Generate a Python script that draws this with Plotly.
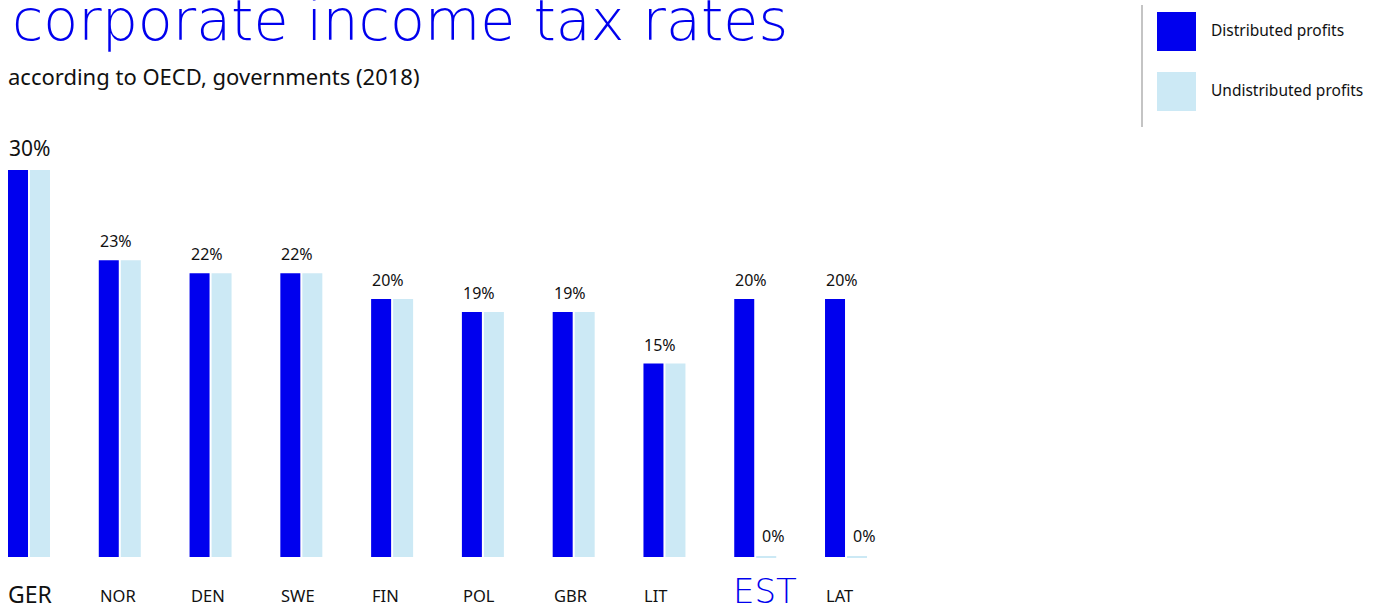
import plotly.graph_objects as go

countries = ["GER", "NOR", "DEN", "SWE", "FIN", "POL", "GBR", "LIT", "EST", "LAT"]
distributed = [30, 23, 22, 22, 20, 19, 19, 15, 20, 20]
undistributed = [30, 23, 22, 22, 20, 19, 19, 15, 0, 0]
title_text = "corporate income tax rates"
subtitle_text = "according to OECD, governments (2018)"
legend_names = ["Distributed profits", "Undistributed profits"]

BLUE = "#0000ee"
LIGHT = "#cce9f5"
W, H = 1373, 604
FONT = "Noto Sans"

idx = list(range(len(countries)))
pitch = 90.78
x_left = -29 / pitch
x_right = (W - 29) / pitch
off = 11 / pitch
bw = 20 / pitch

fig = go.Figure()
fig.add_trace(go.Bar(x=[i - off for i in idx], y=distributed, width=bw,
                     marker=dict(color=BLUE, line=dict(width=0)),
                     name=legend_names[0], showlegend=False, hoverinfo="skip"))
fig.add_trace(go.Bar(x=[i + off for i in idx], y=undistributed, width=bw,
                     marker=dict(color=LIGHT, line=dict(color=LIGHT,
                                 width=[2 if v == 0 else 0 for v in undistributed])),
                     name=legend_names[1], showlegend=False, hoverinfo="skip"))

ann = []
for i, (c, d, u) in enumerate(zip(countries, distributed, undistributed)):
    big = (i == 0)
    if d == u:
        ann.append(dict(x=i, y=d, xref="x", yref="y", text=f"{d}%", showarrow=False,
                        xanchor="left", yanchor="bottom", xshift=-22, yshift=6,
                        font=dict(family=FONT, size=21 if big else 16, color="#111")))
    else:
        ann.append(dict(x=i, y=d, xref="x", yref="y", text=f"{d}%", showarrow=False,
                        xanchor="left", yanchor="bottom", xshift=-22, yshift=6,
                        font=dict(family=FONT, size=16, color="#111")))
        ann.append(dict(x=i, y=u, xref="x", yref="y", text=f"{u}%", showarrow=False,
                        xanchor="left", yanchor="bottom", xshift=5, yshift=8,
                        font=dict(family=FONT, size=16, color="#111")))
    # category labels
    if c == "EST":
        f = dict(family="DejaVu Sans", size=34, color=BLUE, weight=200)
        xs, ys = -24, -12
    elif big:
        f = dict(family=FONT, size=23, color="#111")
        xs, ys = -23, -19
    else:
        f = dict(family=FONT, size=16.5, color="#111")
        xs, ys = -22, -25
    ann.append(dict(x=i, y=0, xref="x", yref="y", text=c, showarrow=False,
                    xanchor="left", yanchor="top", xshift=xs, yshift=ys, font=f))

# title & subtitle
ann.append(dict(x=10 / W, y=1, xref="paper", yref="paper", text=title_text, showarrow=False,
                xanchor="left", yanchor="top", yshift=15,
                font=dict(family="DejaVu Sans", size=57, color=BLUE, weight=200)))
ann.append(dict(x=6 / W, y=1 - 59 / H, xref="paper", yref="paper", text=subtitle_text,
                showarrow=False, xanchor="left", yanchor="top",
                font=dict(family=FONT, size=22, color="#111")))

# legend
shapes = [
    dict(type="line", xref="paper", yref="paper", x0=1142 / W, x1=1142 / W,
         y0=1 - 5 / H, y1=1 - 127 / H, line=dict(color="#b0b0b0", width=1.5)),
    dict(type="rect", xref="paper", yref="paper", x0=1157 / W, x1=1196 / W,
         y0=1 - 12 / H, y1=1 - 51 / H, fillcolor=BLUE, line=dict(width=0)),
    dict(type="rect", xref="paper", yref="paper", x0=1157 / W, x1=1196 / W,
         y0=1 - 72 / H, y1=1 - 111 / H, fillcolor=LIGHT, line=dict(width=0)),
]
for k, (name, py) in enumerate(zip(legend_names, [30, 90])):
    ann.append(dict(x=1209 / W, y=1 - py / H, xref="paper", yref="paper", text=name,
                    showarrow=False, xanchor="left", yanchor="middle",
                    font=dict(family=FONT, size=15.5, color="#111")))

fig.update_layout(
    width=W, height=H,
    margin=dict(l=0, r=0, t=0, b=0),
    paper_bgcolor="white", plot_bgcolor="white",
    barmode="overlay",
    xaxis=dict(range=[x_left, x_right], visible=False, fixedrange=True),
    yaxis=dict(range=[-(H - 557) / 12.9, 557 / 12.9], visible=False, fixedrange=True),
    annotations=ann, shapes=shapes, showlegend=False,
)

fig.write_html("out.html", config={"displayModeBar": False},
               post_script="document.body.style.margin='0';document.body.style.overflow='hidden';")
